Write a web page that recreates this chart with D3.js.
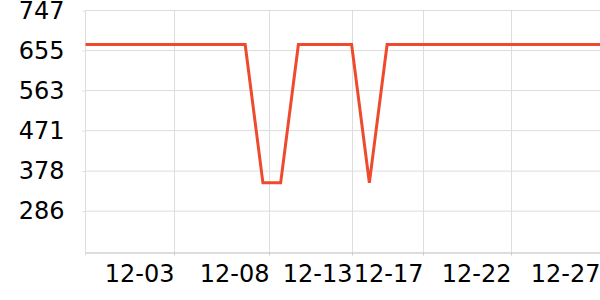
<!DOCTYPE html>
<html>
<head>
<meta charset="utf-8">
<script src="https://cdn.jsdelivr.net/npm/d3@7"></script>
<style>
  body { margin: 0; background: #fff; }
  text { font-family: "DejaVu Sans", sans-serif; }
</style>
</head>
<body>
<div id="chart"></div>
<script>
// daily values, 11-28 .. 12-27
let dates = ['2023-11-28','2023-11-29','2023-11-30','2023-12-01','2023-12-02','2023-12-03',
  '2023-12-04','2023-12-05','2023-12-06','2023-12-07','2023-12-08','2023-12-09','2023-12-10',
  '2023-12-11','2023-12-12','2023-12-13','2023-12-14','2023-12-15','2023-12-16','2023-12-17',
  '2023-12-18','2023-12-19','2023-12-20','2023-12-21','2023-12-22','2023-12-23','2023-12-24',
  '2023-12-25','2023-12-26','2023-12-27'];
let values = [669,669,669,669,669,669,669,669,669,669,351,351,669,669,669,669,351,669,669,669,
  669,669,669,669,669,669,669,669,669,669];
let xTicks = ['2023-12-03T00:00','2023-12-08T08:00','2023-12-13T00:00','2023-12-17T00:00','2023-12-22T00:00','2023-12-27T00:00'];
let yTicks = [286, 378, 471, 563, 655, 747];
let yMin = 191;
let yMax = 747;

let width = 600;
let height = 300;
let margin = { top: 10.5, right: 0, bottom: 47.5, left: 85.5 };
let fontSize = '24px';

let parseDay = d3.utcParse('%Y-%m-%d');
let parseTick = d3.utcParse('%Y-%m-%dT%H:%M');
let data = dates.map((d, i) => ({ date: parseDay(d), value: values[i] }));

let svg = d3.select('#chart').append('svg')
  .attr('width', width)
  .attr('height', height);

let x = d3.scaleUtc()
  .domain(d3.extent(data, d => d.date))
  .range([margin.left, width - margin.right]);

let y = d3.scaleLinear()
  .domain([yMin, yMax])
  .range([height - margin.bottom, margin.top]);

// horizontal grid + y labels
let yAxis = svg.append('g')
  .attr('transform', 'translate(' + margin.left + ',0)')
  .call(d3.axisLeft(y).tickValues(yTicks).tickSize(3).tickPadding(18).tickFormat(d3.format('d')));
yAxis.select('.domain').remove();
yAxis.selectAll('line').attr('stroke', '#ddd');
yAxis.selectAll('text').attr('font-size', fontSize).attr('fill', '#000')
  .attr('font-family', '"DejaVu Sans", sans-serif');

svg.append('g').selectAll('line').data(yTicks).enter().append('line')
  .attr('x1', margin.left).attr('x2', width)
  .attr('y1', d => y(d)).attr('y2', d => y(d))
  .attr('stroke', '#ddd');

// vertical grid
let xTickDates = xTicks.map(parseTick);
svg.append('g').selectAll('line').data(xTickDates).enter().append('line')
  .attr('x1', d => Math.round(x(d)) + 0.5).attr('x2', d => Math.round(x(d)) + 0.5)
  .attr('y1', margin.top).attr('y2', height - margin.bottom)
  .attr('stroke', '#ddd');

// left edge line
svg.append('line')
  .attr('x1', margin.left).attr('x2', margin.left)
  .attr('y1', margin.top).attr('y2', height - margin.bottom + 3)
  .attr('stroke', '#ddd');

// x axis
let xAxis = svg.append('g')
  .attr('transform', 'translate(0,' + (height - margin.bottom) + ')')
  .call(d3.axisBottom(x).tickValues(xTickDates).tickSize(3).tickPadding(9)
    .tickFormat(d3.utcFormat('%m-%d')).tickSizeOuter(0));
xAxis.select('.domain').attr('stroke', '#bbb');
xAxis.selectAll('.tick').attr('transform', d => 'translate(' + (Math.round(x(d)) + 0.5) + ',0)');
xAxis.selectAll('line').attr('stroke', '#ccc');
xAxis.selectAll('text').attr('font-size', fontSize).attr('fill', '#000')
  .attr('font-family', '"DejaVu Sans", sans-serif')
  .attr('text-anchor', 'end');

// the line
let line = d3.line()
  .x(d => x(d.date))
  .y(d => y(d.value));

svg.append('path')
  .datum(data)
  .attr('fill', 'none')
  .attr('stroke', '#ef4a2d')
  .attr('stroke-width', 3)
  .attr('stroke-linejoin', 'miter')
  .attr('d', line);
</script>
</body>
</html>
